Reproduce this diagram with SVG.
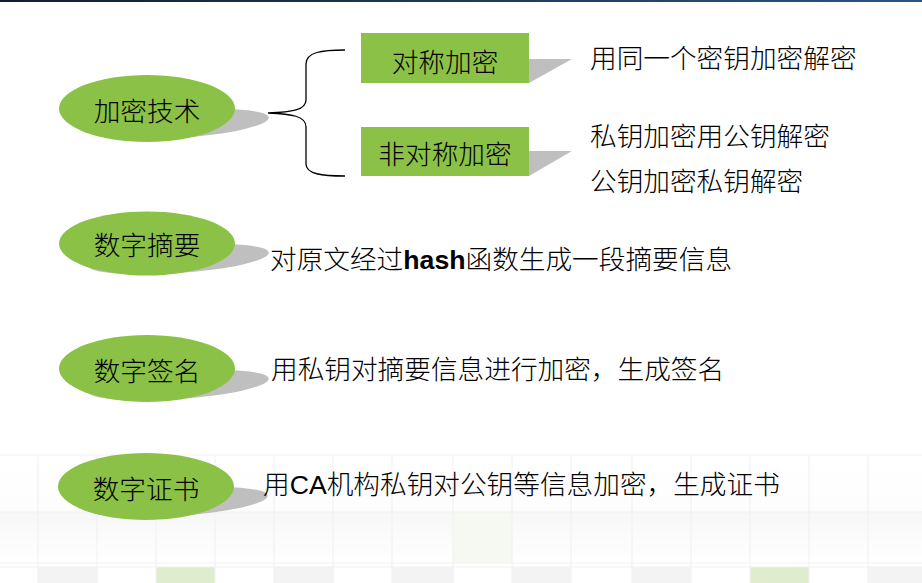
<svg xmlns="http://www.w3.org/2000/svg" width="922" height="583" viewBox="0 0 922 583">
  <defs>
    <linearGradient id="topbar" x1="0" y1="0" x2="1" y2="0">
      <stop offset="0" stop-color="#121e2c"/>
      <stop offset="1" stop-color="#2a5583"/>
    </linearGradient>
    <linearGradient id="bandB" x1="0" y1="0" x2="0" y2="1">
      <stop offset="0" stop-color="#f7f7f7"/>
      <stop offset="1" stop-color="#ffffff"/>
    </linearGradient>
    <linearGradient id="bandA" x1="0" y1="0" x2="0" y2="1">
      <stop offset="0" stop-color="#ffffff"/>
      <stop offset="1" stop-color="#fdfdfd"/>
    </linearGradient>
    <style>
      .oval { fill: #8bc147; }
      .shadow { fill: #bfbfbf; }
      .box { fill: #8bc147; }
      .t { font-family: "Noto Sans CJK SC", "Liberation Sans", sans-serif; font-size: 26.67px; font-weight: 300; fill: #000; }
      .mid { text-anchor: middle; }
      .lat { font-family: "Liberation Sans", Arial, sans-serif; font-weight: normal; }
      .grid { stroke: #f2f2f2; stroke-width: 1.2; fill: none; }
      .cellg { fill: #f3f3f3; }
      .cellgr { fill: #dfedcd; }
    </style>
  </defs>

  <!-- background -->
  <rect x="0" y="0" width="922" height="583" fill="#ffffff"/>
  <rect x="0" y="0" width="922" height="2" fill="url(#topbar)"/>

  <!-- bottom faint grid pattern -->
  <g id="background-grid">
    <rect x="0" y="455" width="922" height="57" fill="url(#bandA)"/>
    <rect x="0" y="512" width="922" height="51" fill="url(#bandB)"/>
    <rect x="453" y="512" width="59" height="51" fill="#f6f9f1"/>
    <rect x="38" y="567" width="59" height="16" class="cellg"/>
    <rect x="156" y="567" width="59" height="16" class="cellgr"/>
    <rect x="274" y="567" width="59" height="16" class="cellg"/>
    <rect x="392" y="567" width="61" height="16" class="cellg"/>
    <rect x="512" y="567" width="59" height="16" class="cellg"/>
    <rect x="632" y="567" width="59" height="16" class="cellg"/>
    <rect x="750" y="567" width="59" height="16" class="cellgr"/>
    <rect x="868" y="567" width="54" height="16" class="cellg"/>
    <path class="grid" d="M0,455 H922 M0,512 H922 M0,563 H922 M0,567 H922"/>
    <path class="grid" d="M38,455 V583 M97,455 V583 M156,455 V583 M215,455 V583 M274,455 V583 M333,455 V583 M392,455 V583 M453,455 V583 M512,455 V583 M571,455 V583 M632,455 V583 M691,455 V583 M750,455 V583 M809,455 V583 M868,455 V583"/>
  </g>

  <!-- connectors -->
  <g id="connectors">
    <path d="M345,50 C322,50 306,52 306,64 L306,100 C306,110 292,112 268,113 C292,114 306,116 306,127 L306,164 C306,174 322,176 345,176" fill="none" stroke="#000" stroke-width="1.3"/>
  </g>

  <!-- ellipse nodes -->
  <g id="node-jiami">
    <ellipse class="shadow" cx="178" cy="124" rx="91" ry="14" transform="rotate(-4 178 124)"/>
    <ellipse class="oval" cx="147" cy="108.5" rx="88" ry="33.5"/>
    <text class="t mid" x="147" y="121">加密技术</text>
  </g>

  <g id="node-zhaiyao">
    <ellipse class="shadow" cx="178" cy="259" rx="91" ry="14" transform="rotate(-4 178 259)"/>
    <ellipse class="oval" cx="147" cy="243.5" rx="88" ry="32"/>
    <text class="t mid" x="147" y="255">数字摘要</text>
  </g>

  <g id="node-qianming">
    <ellipse class="shadow" cx="178" cy="385" rx="91" ry="14" transform="rotate(-4 178 385)"/>
    <ellipse class="oval" cx="147" cy="368.5" rx="88" ry="33.5"/>
    <text class="t mid" x="147" y="381">数字签名</text>
  </g>

  <g id="node-zhengshu">
    <ellipse class="shadow" cx="177" cy="502" rx="91" ry="14" transform="rotate(-4 177 502)"/>
    <ellipse class="oval" cx="146" cy="486.5" rx="88" ry="33.5"/>
    <text class="t mid" x="146" y="499">数字证书</text>
  </g>

  <!-- box nodes -->
  <g id="node-duichen">
    <polygon class="shadow" points="529,59 572,59 529,83"/>
    <rect class="box" x="361" y="33" width="168" height="50"/>
    <text class="t mid" x="445" y="72">对称加密</text>
  </g>

  <g id="node-feiduichen">
    <polygon class="shadow" points="529,151 572,151 529,176"/>
    <rect class="box" x="361" y="127" width="168" height="49"/>
    <text class="t mid" x="445" y="164">非对称加密</text>
  </g>

  <!-- description texts -->
  <g id="desc-duichen">
    <text class="t" x="590" y="67.5">用同一个密钥加密解密</text>
  </g>
  <g id="desc-feiduichen">
    <text class="t" x="590" y="146">私钥加密用公钥解密</text>
    <text class="t" x="590" y="191">公钥加密私钥解密</text>
  </g>
  <g id="desc-zhaiyao">
    <text class="t" x="270" y="269">对原文经过<tspan class="lat" font-weight="bold" style="font-weight:bold">hash</tspan>函数生成一段摘要信息</text>
  </g>
  <g id="desc-qianming">
    <text class="t" x="271" y="378.5">用私钥对摘要信息进行加密，生成签名</text>
  </g>
  <g id="desc-zhengshu">
    <text class="t" x="263" y="494">用<tspan class="lat">CA</tspan>机构私钥对公钥等信息加密，生成证书</text>
  </g>
</svg>
